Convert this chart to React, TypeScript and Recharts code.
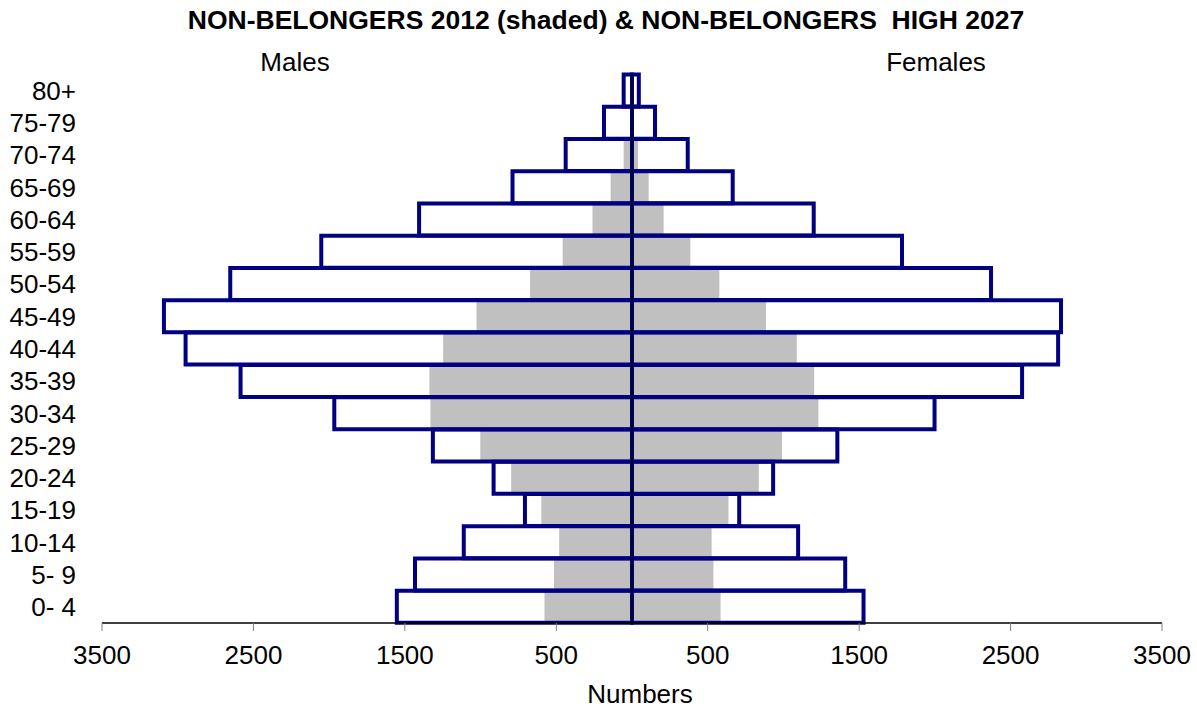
import { BarChart, Bar, XAxis, YAxis, ReferenceLine } from "recharts";

const AGE_GROUPS = [
  "0- 4", "5- 9", "10-14", "15-19", "20-24", "25-29", "30-34", "35-39", "40-44",
  "45-49", "50-54", "55-59", "60-64", "65-69", "70-74", "75-79", "80+",
];

// 2012 (grey, shaded)
const MALES_2012 = [578, 515, 481, 599, 798, 1002, 1331, 1338, 1247, 1027, 673, 458, 261, 141, 55, 10, 5];
const FEMALES_2012 = [585, 538, 526, 637, 837, 991, 1231, 1203, 1088, 885, 577, 385, 209, 110, 40, 10, 5];

// 2027 high projection (outlined)
const MALES_2027 = [1553, 1433, 1111, 707, 914, 1315, 1966, 2585, 2948, 3091, 2653, 2052, 1406, 789, 438, 185, 55];
const FEMALES_2027 = [1529, 1408, 1097, 708, 932, 1356, 1998, 2576, 2814, 2833, 2371, 1783, 1200, 665, 368, 152, 45];

const X_TICKS = [-3500, -2500, -1500, -500, 500, 1500, 2500, 3500];

const NAVY = "#000080";
const GREY = "#C0C0C0";
const FONT = '"Liberation Sans", Arial, sans-serif';

const data = AGE_GROUPS.map((age, i) => ({
  age,
  m12: -MALES_2012[i],
  f12: FEMALES_2012[i],
  m27: -MALES_2027[i],
  f27: FEMALES_2027[i],
}));

const text = (extra: React.CSSProperties): React.CSSProperties => ({
  position: "absolute",
  fontFamily: FONT,
  color: "#000",
  whiteSpace: "pre",
  lineHeight: "26px",
  textAlign: "center",
  ...extra,
});

// age labels, right-aligned just left of the plot
const AgeTick = (props: any) => {
  const { y, payload } = props;
  return (
    <text x={76} y={y} dy="0.355em" textAnchor="end" fill="#000" fontSize={26} fontFamily={FONT}>
      {payload.value}
    </text>
  );
};

export default function App() {
  return (
    <div
      style={{
        position: "absolute",
        left: 0,
        top: 0,
        width: 1197,
        height: 708,
        background: "#fff",
        fontFamily: FONT,
      }}
    >
      <BarChart
        width={1197}
        height={708}
        data={data}
        layout="vertical"
        stackOffset="sign"
        barCategoryGap={0}
        barGap={0}
        margin={{ top: 74.5, right: 35, left: 12, bottom: 35 }}
      >
        <XAxis
          type="number"
          domain={[-3500, 3500]}
          ticks={X_TICKS}
          allowDataOverflow
          tickFormatter={(v: number) => String(Math.abs(v))}
          tick={{ fill: "#000", fontSize: 26, fontFamily: FONT }}
          axisLine={{ stroke: "#000", strokeWidth: 1.5 }}
          tickLine={{ stroke: "#808080" }}
          tickSize={8}
          tickMargin={15}
          height={50}
        />
        <YAxis
          yAxisId="shade"
          type="category"
          dataKey="age"
          reversed
          width={90}
          axisLine={false}
          tickLine={false}
          interval={0}
          tick={<AgeTick />}
        />
        <YAxis yAxisId="outline" type="category" dataKey="age" reversed hide />
        <Bar yAxisId="shade" dataKey="m12" stackId="s" fill={GREY} isAnimationActive={false} />
        <Bar yAxisId="shade" dataKey="f12" stackId="s" fill={GREY} isAnimationActive={false} />
        <Bar
          yAxisId="outline"
          dataKey="m27"
          stackId="o"
          fill="none"
          stroke={NAVY}
          strokeWidth={4}
          isAnimationActive={false}
        />
        <Bar
          yAxisId="outline"
          dataKey="f27"
          stackId="o"
          fill="none"
          stroke={NAVY}
          strokeWidth={4}
          isAnimationActive={false}
        />
        <ReferenceLine yAxisId="shade" x={0} stroke="#000" strokeWidth={1.5} />
      </BarChart>

      <div style={text({ left: 0, top: 7, width: 1212, fontSize: 26.5, fontWeight: "bold" })}>
        {"NON-BELONGERS 2012 (shaded) & NON-BELONGERS  HIGH 2027"}
      </div>
      <div style={text({ left: 245, top: 49, width: 100, fontSize: 26 })}>Males</div>
      <div style={text({ left: 876, top: 49, width: 120, fontSize: 26 })}>Females</div>
      <div style={text({ left: 580, top: 681, width: 120, fontSize: 26 })}>Numbers</div>
    </div>
  );
}
